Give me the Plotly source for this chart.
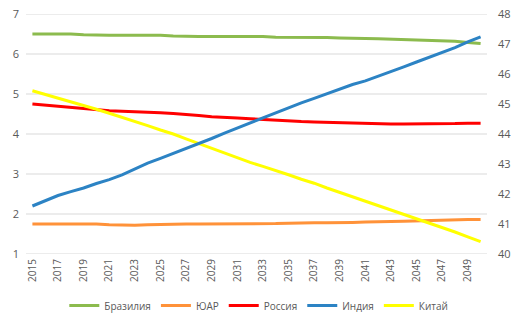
import plotly.graph_objects as go

years = list(range(2015, 2051))

brazil = [6.50, 6.50, 6.50, 6.50, 6.48, 6.47, 6.47, 6.47, 6.47, 6.47, 6.47, 6.45,
          6.44, 6.44, 6.44, 6.44, 6.44, 6.44, 6.44, 6.42, 6.42, 6.41, 6.41, 6.41,
          6.40, 6.40, 6.39, 6.38, 6.37, 6.36, 6.35, 6.34, 6.33, 6.32, 6.29, 6.26]

sa = [1.75, 1.75, 1.75, 1.75, 1.75, 1.75, 1.73, 1.72, 1.72, 1.73, 1.74, 1.75,
      1.75, 1.75, 1.75, 1.75, 1.75, 1.75, 1.75, 1.76, 1.77, 1.78, 1.78, 1.78,
      1.78, 1.79, 1.80, 1.80, 1.81, 1.82, 1.83, 1.84, 1.85, 1.86, 1.86, 1.86]

russia = [4.75, 4.72, 4.69, 4.67, 4.64, 4.61, 4.58, 4.57, 4.56, 4.55, 4.53, 4.51,
          4.49, 4.46, 4.43, 4.42, 4.40, 4.38, 4.36, 4.34, 4.33, 4.31, 4.30, 4.29,
          4.28, 4.27, 4.27, 4.26, 4.25, 4.25, 4.25, 4.25, 4.25, 4.26, 4.27, 4.27]

# India is plotted against the secondary (right) axis
india = [41.60, 41.77, 41.95, 42.08, 42.20, 42.35, 42.48, 42.64, 42.84, 43.03, 43.19, 43.35,
         43.52, 43.68, 43.85, 44.03, 44.20, 44.37, 44.55, 44.72, 44.88, 45.04, 45.19, 45.35,
         45.49, 45.65, 45.77, 45.92, 46.08, 46.24, 46.40, 46.56, 46.72, 46.88, 47.07, 47.24]

china = [5.08, 4.99, 4.89, 4.80, 4.71, 4.62, 4.52, 4.42, 4.31, 4.21, 4.10, 4.00,
         3.88, 3.76, 3.64, 3.52, 3.40, 3.29, 3.19, 3.09, 2.98, 2.87, 2.77, 2.65,
         2.54, 2.43, 2.33, 2.22, 2.11, 2.00, 1.89, 1.78, 1.67, 1.55, 1.43, 1.31]

names = ["Бразилия", "ЮАР", "Россия", "Индия", "Китай"]
colors = ["#8CBB4E", "#FF9239", "#FF0000", "#2C83C4", "#FFFF00"]

tick_years = list(range(2015, 2050, 2))
left_ticks = [1, 2, 3, 4, 5, 6, 7]
right_ticks = [40, 41, 42, 43, 44, 45, 46, 47, 48]

fig = go.Figure()
series = [brazil, sa, russia, india, china]
for name, vals, col in zip(names, series, colors):
    fig.add_trace(go.Scatter(
        x=years, y=vals, name=name, mode="lines",
        line=dict(color=col, width=3),
        yaxis="y2" if name == "Индия" else "y",
    ))

# horizontal gridlines at the primary-axis tick values
for t in left_ticks:
    fig.add_shape(type="line", xref="paper", yref="y", x0=0, x1=1, y0=t, y1=t,
                  line=dict(color="#D9D9D9", width=1), layer="below")

font_col = "#595959"
fig.update_layout(
    width=520, height=325,
    margin=dict(l=26, r=33, t=14, b=71, autoexpand=False),
    paper_bgcolor="white", plot_bgcolor="rgba(0,0,0,0)",
    font=dict(family="Open Sans", color=font_col, size=11),
    showlegend=True,
    legend=dict(orientation="h", x=0.505, xanchor="center", y=-0.215, yanchor="middle",
                font=dict(size=10, color=font_col), itemwidth=30,
                traceorder="normal"),
    xaxis=dict(range=[2014.5, 2050.5], tickvals=tick_years,
               ticktext=[str(t) for t in tick_years], tickangle=-90,
               showgrid=False, zeroline=False, showline=False, automargin=False,
               ticks="", ticklabelstandoff=2, tickfont=dict(size=10, color=font_col)),
    yaxis=dict(range=[1, 7], tickvals=left_ticks, showgrid=False,
               zeroline=False, automargin=False,
               showline=False, ticks="", ticklabelstandoff=6,
               tickfont=dict(size=11, color=font_col)),
    yaxis2=dict(range=[40, 48], tickvals=right_ticks, overlaying="y",
                side="right", showgrid=False, zeroline=False, ticks="",
                automargin=False, ticklabelstandoff=10,
                tickfont=dict(size=11, color=font_col)),
)

fig.write_html("out.html")
